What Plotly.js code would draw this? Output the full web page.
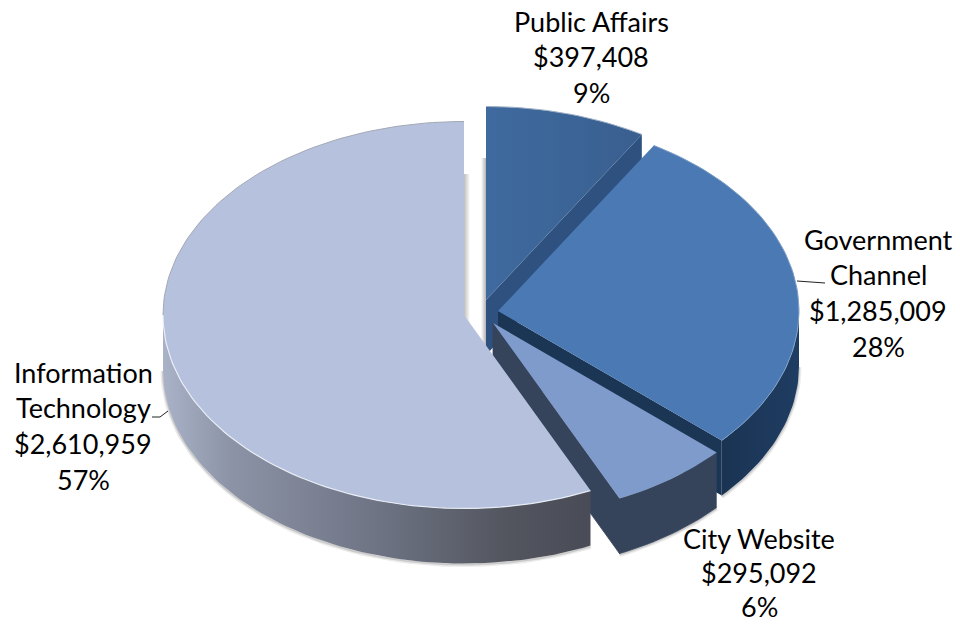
<!DOCTYPE html>
<html>
<head>
<meta charset="utf-8">
<script src="https://cdn.plot.ly/plotly-3.0.1.min.js"></script>
<style>html,body{margin:0;padding:0;background:#fff}#chart{width:960px;height:624px}</style>
</head>
<body>
<div id="chart"></div>
<script>
// Budget split by program, clockwise from twelve o'clock
const categories = ["Public Affairs", "Government Channel", "City Website", "Information Technology"];
const labelLines = [["Public Affairs"], ["Government", "Channel"], ["City Website"], ["Information", "Technology"]];
const amounts = [397408, 1285009, 295092, 2610959];

// Tilted-disc geometry, in the pixel-sized units of the hidden axes
const RX = 301, RY = 193.5, DEPTH = 55;
const apexX = [486, 498, 493, 464];
const apexY = [300, 311, 323, 315];
const topFill = ["#3b6496", "#4a79b3", "#7f9bcb", "#b6c2dd"];
const sideFill = ["#2e5180", "#1b3555", "#35445b", "#4b4e5a"];
const labelX = [591, 878, 759, 83];
const labelY = [21, 239, 538, 372];
const lineStep = [35.7, 35.7, 34, 35.7];

const total = amounts.reduce((a, b) => a + b, 0);
const money = v => "$" + v.toLocaleString("en-US");
const pct = v => Math.round(100 * v / total) + "%";

// Slice boundaries as angles clockwise from the top
const edges = [0];
amounts.forEach(v => edges.push(edges[edges.length - 1] + 360 * v / total));

function arc(i, from, to, drop) {
  const xs = [], ys = [], n = Math.max(2, Math.ceil(Math.abs(to - from) / 1.5));
  for (let k = 0; k <= n; k++) {
    const t = (from + (to - from) * k / n) * Math.PI / 180;
    xs.push(apexX[i] + RX * Math.sin(t));
    ys.push(apexY[i] - RY * Math.cos(t) + drop);
  }
  return {x: xs, y: ys};
}
const poly = (x, y, color, extra) => Object.assign({
  type: "scatter", mode: "lines", x, y, fill: "toself", fillcolor: color,
  line: {width: 0}, hoverinfo: "skip", showlegend: false
}, extra || {});
const stroke = (x, y, color, width) => ({
  type: "scatter", mode: "lines", x, y, line: {color, width, shape: "linear"},
  hoverinfo: "skip", showlegend: false
});

// Outer rim between two angles
function rim(i, from, to, color, extra) {
  const a = arc(i, from, to, 0), b = arc(i, to, from, DEPTH);
  return poly(a.x.concat(b.x), a.y.concat(b.y), color, extra);
}
// Cut face along a radial edge at the given angle
function cut(i, angle, color, extra) {
  const e = arc(i, angle, angle, 0);
  const ex = e.x[0], ey = e.y[0], ax = apexX[i], ay = apexY[i];
  return poly([ax, ex, ex, ax, ax], [ay, ey, ey + DEPTH, ay + DEPTH, ay], color, extra);
}
function sliceFace(i, extra) {
  const a = arc(i, edges[i], edges[i + 1], 0);
  return poly([apexX[i]].concat(a.x, [apexX[i]]), [apexY[i]].concat(a.y, [apexY[i]]), topFill[i], extra);
}
function softShadow(i, from, to) {
  const b = arc(i, from, to, DEPTH + 1);
  return [stroke(b.x, b.y, "rgba(90,90,90,0.12)", 5), stroke(b.x, b.y, "rgba(90,90,90,0.22)", 2)];
}
// Faint vertical shade beside a straight slice edge
function edgeShade(x0, x1, yTop, yBottom, left, right) {
  return poly([x0, x1, x1, x0, x0], [yTop, yTop, yBottom, yBottom, yTop], left, {
    fillgradient: {type: "horizontal", start: x0, stop: x1, colorscale: [[0, left], [1, right]]}
  });
}

const traces = [];

// Shading in the gap between the largest slice and the first slice
traces.push(edgeShade(apexX[3], apexX[3] + 6, apexY[3] - 141, apexY[3] + 12, "#bdbdbd", "#ffffff"));
traces.push(edgeShade(apexX[0] - 5, apexX[0], apexY[0] - 142, apexY[0] + 52, "#ffffff", "#b4b4b4"));

// First slice
traces.push(cut(0, edges[1], sideFill[0]));
traces.push(sliceFace(0, {fillgradient: {type: "horizontal", start: apexX[0], stop: apexX[0] + 155,
  colorscale: [[0, "#3f6a9f"], [1, "#395f8f"]]}}));
const a0 = arc(0, edges[0], edges[1], 0);
traces.push(stroke(a0.x, a0.y, "#9fb0c6", 1));

// Second slice
traces.push(...softShadow(1, 90, edges[2]));
traces.push(rim(1, 90, edges[2], sideFill[1], {fillgradient: {type: "horizontal",
  start: apexX[1] + 220, stop: apexX[1] + 303, colorscale: [[0, "#1a3352"], [1, "#1f3d62"]]}}));
traces.push(cut(1, edges[2], sideFill[1]));
traces.push(sliceFace(1));
const a1 = arc(1, edges[1], edges[2], 0);
traces.push(stroke(a1.x, a1.y, "#7f9fc8", 1));

// Third slice, with its two dark faces stroked so they join without a seam
const cityEdge = {line: {width: 0.8, color: sideFill[2]}};
traces.push(...softShadow(2, edges[2], edges[3]));
traces.push(rim(2, edges[2], edges[3], sideFill[2], cityEdge));
traces.push(cut(2, edges[3], sideFill[2], cityEdge));
traces.push(sliceFace(2));

// Largest slice
traces.push(...softShadow(3, edges[3], 270));
const itLeft = apexX[3] - RX, itRight = apexX[3] + RX * Math.sin(edges[3] * Math.PI / 180);
traces.push(rim(3, edges[3], 270, sideFill[3], {fillgradient: {type: "horizontal", start: itLeft, stop: itRight,
  colorscale: [[0, "#a9b2c7"], [0.16, "#8c93a6"], [0.5, "#6e7484"], [0.8, "#53565f"], [1, "#494b56"]]}}));
traces.push(sliceFace(3));
const lower = arc(3, edges[3], 270, 0), upper = arc(3, 270, 360, 0);
traces.push(stroke(lower.x, lower.y, "rgba(240,244,252,0.85)", 1.2));
traces.push(stroke(upper.x, upper.y, "#a3a8b5", 1));

// Leader lines from the disc to the two side labels
traces.push(stroke([797, 825], [281, 283], "#222222", 1));
traces.push(stroke([168, 160, 152], [411, 417, 417], "#222222", 1));

// Each label stacks its name lines, amount and share
const annotations = [];
categories.forEach((c, i) => {
  const lines = labelLines[i].concat([money(amounts[i]), pct(amounts[i])]);
  lines.forEach((text, k) => annotations.push({
    x: labelX[i], y: labelY[i] + k * lineStep[i], text, showarrow: false,
    xref: "x", yref: "y", xanchor: "center", yanchor: "middle",
    font: {family: "Lato, 'Open Sans', sans-serif", size: 27, color: "#000000"}
  }));
});

const hiddenAxis = {visible: false, fixedrange: true, showgrid: false, zeroline: false};
Plotly.newPlot("chart", traces, {
  width: 960, height: 624,
  margin: {l: 0, r: 0, t: 0, b: 0},
  paper_bgcolor: "#ffffff", plot_bgcolor: "#ffffff",
  showlegend: false,
  xaxis: Object.assign({range: [0, 960]}, hiddenAxis),
  yaxis: Object.assign({range: [624, 0]}, hiddenAxis),
  annotations
}, {displayModeBar: false, staticPlot: true});
</script>
</body>
</html>
